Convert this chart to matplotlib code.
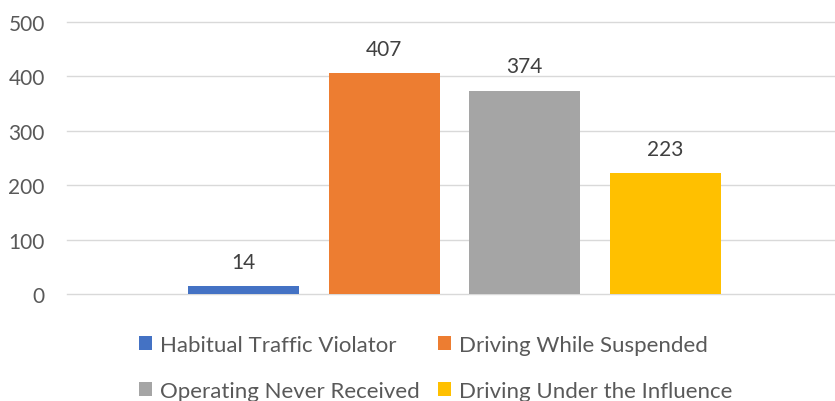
import matplotlib
matplotlib.use("Agg")
import matplotlib.pyplot as plt

categories = ["Habitual Traffic Violator", "Driving While Suspended",
              "Operating Never Received", "Driving Under the Influence"]
values = [14, 407, 374, 223]
colors = ["#4472C4", "#ED7D31", "#A5A5A5", "#FFC000"]
yticks = [0, 100, 200, 300, 400, 500]

plt.rcParams['font.family'] = ['Lato', 'DejaVu Sans']

FS = 15
LFS = 16
W, H = 835, 402
fig = plt.figure(figsize=(W / 100, H / 100), dpi=100)
ax = fig.add_axes([67 / W, (H - 295) / H, (835 - 67) / W, (295 - 23) / H])

handles = []
for i, (c, v, col) in enumerate(zip(categories, values, colors)):
    b = ax.bar(i, v, width=0.789, color=col, label=c, zorder=3)
    handles.append(b)
    ax.annotate(str(v), (i, v), xytext=(0, 13), textcoords="offset points",
                ha="center", va="baseline", fontsize=FS, color="#404040")

ax.set_ylim(0, 500)
ax.set_xlim(-1.2545, 4.205)
ax.set_yticks(yticks)
ax.set_yticklabels([str(t) for t in yticks])
ax.set_xticks([])
ax.grid(axis="y", color="#D9D9D9", linewidth=1.0, zorder=0)
for gl in ax.get_ygridlines():
    gl.set_clip_on(False)
ax.set_axisbelow(True)
for s in ax.spines.values():
    s.set_visible(False)
ax.tick_params(axis="y", length=0, pad=16, labelsize=FS, labelcolor="#595959")

F = LFS * 100 / 72
order = [0, 2, 1, 3]
fig.legend(handles=[handles[k] for k in order], labels=[categories[k] for k in order],
           ncol=2, loc="center",
           bbox_to_anchor=(435.5 / W, 1 - 369 / H), frameon=False,
           fontsize=LFS, labelcolor="#595959",
           handlelength=13 / F, handleheight=13 / F, handletextpad=8 / F,
           columnspacing=18 / F, labelspacing=1.15, borderpad=0)

fig.savefig("out.png", dpi=100)
